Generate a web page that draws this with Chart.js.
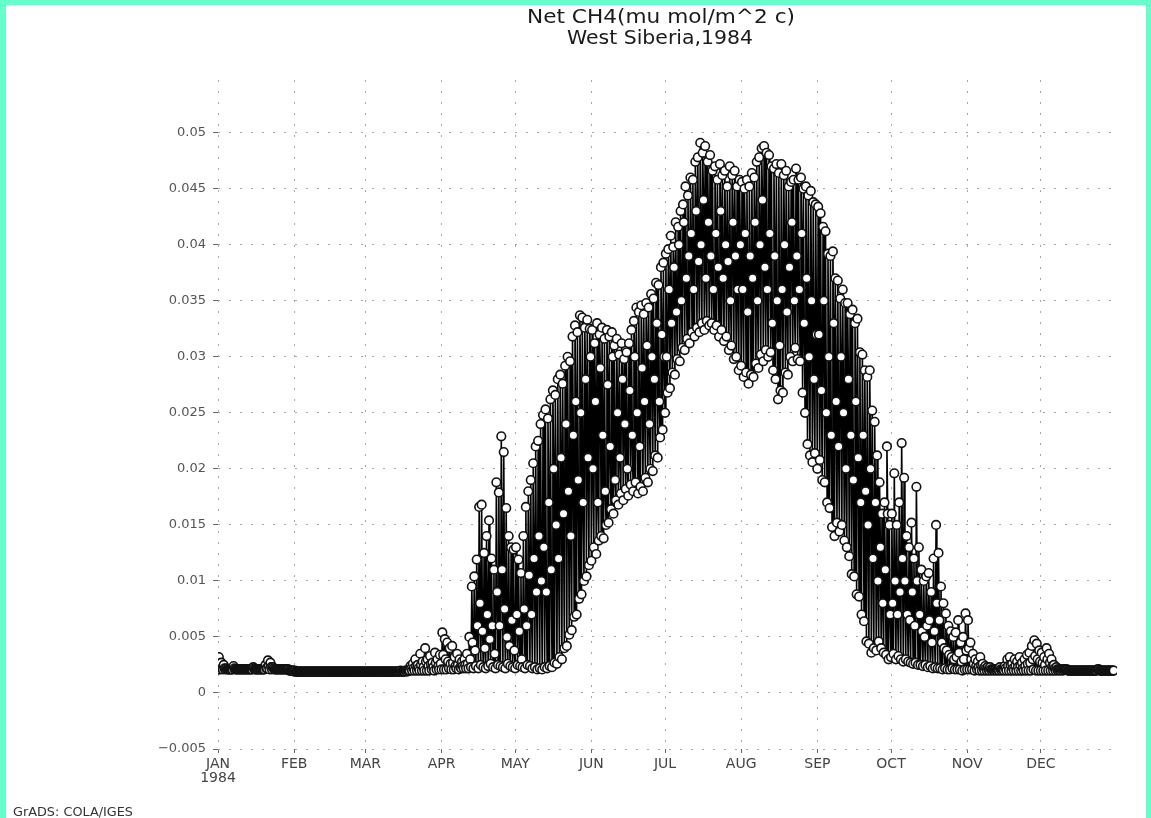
<!DOCTYPE html>
<html>
<head>
<meta charset="utf-8">
<script src="https://cdn.jsdelivr.net/npm/chart.js@4/dist/chart.umd.min.js"></script>
<style>
html,body{margin:0;padding:0;background:#fff;}
canvas{display:block;}
</style>
</head>
<body>
<canvas id="c" width="1151" height="818"></canvas>
<script>
// ---- Data ----
const titleLines = ['Net CH4(mu mol/m^2 c)', 'West Siberia,1984'];
const footerText = 'GrADS: COLA/IGES';
const monthLabels = ['JAN','FEB','MAR','APR','MAY','JUN','JUL','AUG','SEP','OCT','NOV','DEC'];
const monthStartDay = [0,31,60,91,121,152,182,213,244,274,305,335];
const yearLabel = '1984';
const yTickValues = [-0.005,0,0.005,0.01,0.015,0.02,0.025,0.03,0.035,0.04,0.045,0.05];
const yTickLabels = ['\u22120.005','0','0.005','0.01','0.015','0.02','0.025','0.03','0.035','0.04','0.045','0.05'];

// daily minimum (one value per day, Jan 1 .. Dec 30)
const dailyLow = [
// Jan
0.0021,0.0021,0.0021,0.0021,0.0021,0.0021,0.0021,0.0021,0.0021,0.0021,
0.0021,0.0021,0.0021,0.0021,0.0021,0.0021,0.0021,0.0021,0.0021,0.0021,
0.0022,0.0021,0.0021,0.0021,0.0021,0.0021,0.0021,0.0021,0.0021,0.0020,0.0020,
// Feb
0.0019,0.0019,0.0019,0.0019,0.0019,0.0019,0.0019,0.0019,0.0019,0.0019,
0.0019,0.0019,0.0019,0.0019,0.0019,0.0019,0.0019,0.0019,0.0019,0.0019,
0.0019,0.0019,0.0019,0.0019,0.0019,0.0019,0.0019,0.0019,0.0019,
// Mar
0.0019,0.0019,0.0019,0.0019,0.0019,0.0019,0.0019,0.0019,0.0019,0.0019,
0.0019,0.0019,0.0019,0.0019,0.0019,0.0019,0.0019,0.0019,
0.0020,0.0020,0.0020,0.0020,0.0020,0.0020,0.0020,0.0020,0.0020,0.0021,0.0020,0.0021,0.0021,
// Apr
0.0021,0.0021,0.0021,0.0022,0.0021,0.0021,0.0022,0.0021,0.0022,0.0022,
0.0022,0.0022,0.0023,0.0022,0.0024,0.0022,0.0025,0.0023,0.0022,0.0024,
0.0026,0.0023,0.0022,0.0025,0.0024,0.0023,0.0022,0.0026,0.0024,0.0023,
// May
0.0022,0.0025,0.0024,0.0023,0.0022,0.0025,0.0024,0.0022,0.0023,0.0021,0.0022,
0.0021,0.0023,0.0022,0.0024,0.0023,0.0027,0.0026,0.0032,0.0030,0.0040,
0.0042,0.0052,0.0056,0.0068,0.0070,0.0084,0.0088,0.0100,0.0104,0.0114,
// Jun
0.0118,0.0130,0.0124,0.0136,0.0140,0.0138,0.0150,0.0152,0.0164,0.0160,
0.0172,0.0168,0.0178,0.0172,0.0182,0.0176,0.0186,0.0180,0.0188,0.0178,
0.0184,0.0180,0.0192,0.0188,0.0200,0.0198,0.0212,0.0210,0.0228,0.0235,
// Jul
0.0250,0.0268,0.0272,0.0286,0.0284,0.0298,0.0296,0.0308,0.0306,0.0316,
0.0312,0.0322,0.0318,0.0326,0.0322,0.0330,0.0324,0.0332,0.0328,0.0330,
0.0324,0.0328,0.0318,0.0324,0.0314,0.0318,0.0306,0.0310,0.0298,0.0300,0.0288,
// Aug
0.0292,0.0282,0.0286,0.0276,0.0284,0.0282,0.0294,0.0290,0.0302,0.0296,
0.0306,0.0300,0.0304,0.0288,0.0280,0.0262,0.0270,0.0268,0.0286,0.0284,
0.0300,0.0296,0.0308,0.0298,0.0296,0.0268,0.0250,0.0222,0.0212,0.0206,0.0214,
// Sep
0.0200,0.0208,0.0190,0.0188,0.0170,0.0165,0.0148,0.0140,0.0152,0.0144,
0.0150,0.0136,0.0130,0.0122,0.0106,0.0104,0.0088,0.0086,0.0070,0.0064,
0.0046,0.0044,0.0036,0.0040,0.0038,0.0046,0.0040,0.0036,0.0034,0.0030,
// Oct
0.0032,0.0035,0.0030,0.0033,0.0030,0.0028,0.0030,0.0028,0.0027,0.0026,
0.0027,0.0025,0.0025,0.0024,0.0025,0.0023,0.0024,0.0022,0.0023,0.0022,
0.0022,0.0021,0.0022,0.0021,0.0021,0.0022,0.0021,0.0021,0.0021,0.0020,0.0021,
// Nov
0.0021,0.0021,0.0021,0.0020,0.0021,0.0020,0.0020,0.0020,0.0020,0.0020,
0.0020,0.0020,0.0020,0.0020,0.0020,0.0020,0.0020,0.0020,0.0020,0.0020,
0.0020,0.0020,0.0020,0.0020,0.0020,0.0020,0.0020,0.0021,0.0020,0.0020,
// Dec
0.0020,0.0020,0.0020,0.0020,0.0020,0.0020,0.0020,0.0020,0.0020,0.0020,
0.0021,0.0020,0.0020,0.0020,0.0020,0.0020,0.0020,0.0020,0.0020,0.0020,
0.0020,0.0020,0.0020,0.0021,0.0020,0.0020,0.0020,0.0020,0.0020,0.0020
];

// daily maximum
const dailyHigh = [
// Jan
0.0032,0.0027,0.0025,0.0022,0.0021,0.0021,0.0024,0.0021,0.0021,0.0021,
0.0021,0.0021,0.0021,0.0021,0.0023,0.0021,0.0021,0.0021,0.0021,0.0025,
0.0029,0.0027,0.0023,0.0021,0.0021,0.0021,0.0021,0.0021,0.0021,0.0020,0.0020,
// Feb
0.0020,0.0019,0.0019,0.0019,0.0019,0.0019,0.0019,0.0019,0.0019,0.0019,
0.0019,0.0019,0.0019,0.0019,0.0019,0.0019,0.0019,0.0019,0.0019,0.0019,
0.0019,0.0019,0.0019,0.0019,0.0019,0.0019,0.0019,0.0019,0.0019,
// Mar
0.0019,0.0019,0.0019,0.0019,0.0019,0.0019,0.0019,0.0019,0.0019,0.0019,
0.0019,0.0019,0.0019,0.0019,0.0020,0.0019,0.0020,0.0020,
0.0024,0.0026,0.0030,0.0025,0.0035,0.0028,0.0040,0.0030,0.0033,0.0027,0.0036,0.0030,0.0034,
// Apr
0.0054,0.0048,0.0045,0.0040,0.0042,0.0032,0.0035,0.0030,0.0028,0.0030,
0.0035,0.0050,0.0095,0.0104,0.0119,0.0166,0.0168,0.0125,0.0140,0.0154,
0.0120,0.0110,0.0188,0.0179,0.0229,0.0215,0.0165,0.0140,0.0130,0.0128,
// May
0.0130,0.0119,0.0107,0.0140,0.0166,0.0180,0.0190,0.0205,0.0220,0.0225,0.0240,
0.0248,0.0253,0.0245,0.0262,0.0270,0.0266,0.0280,0.0284,0.0276,0.0292,
0.0300,0.0296,0.0318,0.0328,0.0322,0.0337,0.0335,0.0326,0.0333,0.0325,
// Jun
0.0324,0.0312,0.0330,0.0320,0.0326,0.0316,0.0324,0.0318,0.0322,0.0310,
0.0316,0.0302,0.0312,0.0298,0.0304,0.0312,0.0324,0.0332,0.0344,0.0340,
0.0346,0.0338,0.0348,0.0344,0.0356,0.0352,0.0366,0.0364,0.0380,0.0384,
// Jul
0.0392,0.0396,0.0408,0.0398,0.0420,0.0416,0.0430,0.0436,0.0452,0.0444,
0.0460,0.0458,0.0474,0.0478,0.0491,0.0482,0.0488,0.0474,0.0480,0.0466,
0.0470,0.0458,0.0472,0.0462,0.0466,0.0452,0.0470,0.0462,0.0466,0.0452,0.0458,
// Aug
0.0456,0.0450,0.0458,0.0452,0.0464,0.0460,0.0474,0.0478,0.0486,0.0488,
0.0482,0.0480,0.0470,0.0468,0.0472,0.0464,0.0472,0.0462,0.0466,0.0452,
0.0456,0.0458,0.0468,0.0458,0.0460,0.0450,0.0452,0.0444,0.0448,0.0438,0.0436,
// Sep
0.0434,0.0428,0.0416,0.0412,0.0392,0.0390,0.0394,0.0370,0.0368,0.0352,
0.0360,0.0348,0.0348,0.0338,0.0342,0.0330,0.0334,0.0304,0.0302,0.0288,
0.0282,0.0288,0.0252,0.0242,0.0212,0.0188,0.0160,0.0170,0.0220,0.0150,
// Oct
0.0160,0.0196,0.0150,0.0170,0.0223,0.0192,0.0140,0.0130,0.0152,0.0120,
0.0184,0.0130,0.0110,0.0100,0.0104,0.0107,0.0090,0.0120,0.0150,0.0125,
0.0095,0.0080,0.0071,0.0060,0.0055,0.0050,0.0054,0.0065,0.0045,0.0050,0.0071,
// Nov
0.0065,0.0045,0.0035,0.0030,0.0028,0.0032,0.0026,0.0024,0.0023,0.0023,
0.0021,0.0021,0.0021,0.0023,0.0021,0.0024,0.0030,0.0032,0.0026,0.0030,
0.0028,0.0032,0.0027,0.0030,0.0034,0.0036,0.0042,0.0047,0.0044,0.0038,
// Dec
0.0036,0.0032,0.0040,0.0035,0.0030,0.0025,0.0023,0.0021,0.0021,0.0021,
0.0021,0.0020,0.0020,0.0020,0.0020,0.0020,0.0020,0.0020,0.0020,0.0020,
0.0020,0.0020,0.0020,0.0021,0.0020,0.0020,0.0020,0.0020,0.0020,0.0020
];

// a third (intermediate) sample of each day
const dailyMid = [
// Jan
0.0024,0.0022,0.0022,0.0021,0.0021,0.0021,0.0022,0.0021,0.0021,0.0021,
0.0021,0.0021,0.0021,0.0021,0.0022,0.0021,0.0021,0.0021,0.0021,0.0022,
0.0024,0.0023,0.0022,0.0021,0.0021,0.0021,0.0021,0.0021,0.0021,0.0020,0.0020,
// Feb
0.0019,0.0019,0.0019,0.0019,0.0019,0.0019,0.0019,0.0019,0.0019,0.0019,
0.0019,0.0019,0.0019,0.0019,0.0019,0.0019,0.0019,0.0019,0.0019,0.0019,
0.0019,0.0019,0.0019,0.0019,0.0019,0.0019,0.0019,0.0019,0.0019,
// Mar
0.0019,0.0019,0.0019,0.0019,0.0019,0.0019,0.0019,0.0019,0.0019,0.0019,
0.0019,0.0019,0.0019,0.0019,0.0019,0.0019,0.0020,0.0020,
0.0022,0.0022,0.0024,0.0022,0.0025,0.0023,0.0028,0.0024,0.0026,0.0023,0.0027,0.0024,0.0026,
// Apr
0.0034,0.0030,0.0028,0.0026,0.0027,0.0024,0.0025,0.0023,0.0024,0.0025,
0.0026,0.0030,0.0045,0.0038,0.0060,0.0080,0.0055,0.0040,0.0070,0.0048,
0.0060,0.0035,0.0090,0.0060,0.0110,0.0075,0.0050,0.0042,0.0065,0.0038,
// May
0.0070,0.0055,0.0030,0.0075,0.0060,0.0105,0.0070,0.0120,0.0090,0.0140,0.0100,
0.0130,0.0090,0.0170,0.0110,0.0200,0.0150,0.0120,0.0210,0.0160,0.0240,
0.0180,0.0140,0.0230,0.0260,0.0190,0.0250,0.0170,0.0280,0.0210,0.0300,
// Jun
0.0200,0.0260,0.0170,0.0290,0.0230,0.0180,0.0275,0.0220,0.0300,0.0190,
0.0250,0.0210,0.0280,0.0240,0.0200,0.0270,0.0230,0.0300,0.0250,0.0220,
0.0290,0.0260,0.0310,0.0240,0.0300,0.0280,0.0330,0.0260,0.0320,0.0300,
// Jul
0.0300,0.0360,0.0330,0.0380,0.0340,0.0400,0.0350,0.0420,0.0370,0.0390,
0.0410,0.0360,0.0430,0.0385,0.0400,0.0440,0.0370,0.0420,0.0390,0.0360,
0.0410,0.0380,0.0430,0.0370,0.0400,0.0385,0.0350,0.0420,0.0390,0.0360,0.0400,
// Aug
0.0360,0.0410,0.0340,0.0390,0.0370,0.0420,0.0350,0.0400,0.0440,0.0380,
0.0360,0.0410,0.0330,0.0390,0.0350,0.0310,0.0360,0.0400,0.0340,0.0380,
0.0420,0.0350,0.0390,0.0360,0.0410,0.0330,0.0370,0.0300,0.0350,0.0280,0.0320,
// Sep
0.0320,0.0270,0.0350,0.0250,0.0300,0.0230,0.0330,0.0260,0.0220,0.0300,
0.0250,0.0200,0.0280,0.0230,0.0190,0.0260,0.0210,0.0170,0.0230,0.0180,
0.0150,0.0200,0.0120,0.0170,0.0100,0.0130,0.0080,0.0110,0.0160,0.0070,
// Oct
0.0080,0.0100,0.0070,0.0090,0.0120,0.0100,0.0070,0.0065,0.0090,0.0060,
0.0100,0.0070,0.0055,0.0050,0.0060,0.0065,0.0045,0.0055,0.0080,0.0065,
0.0045,0.0040,0.0038,0.0034,0.0032,0.0030,0.0032,0.0036,0.0028,0.0030,0.0038,
// Nov
0.0040,0.0030,0.0026,0.0024,0.0023,0.0025,0.0022,0.0022,0.0021,0.0021,
0.0021,0.0021,0.0021,0.0021,0.0021,0.0022,0.0024,0.0025,0.0022,0.0024,
0.0023,0.0025,0.0022,0.0024,0.0026,0.0027,0.0030,0.0033,0.0030,0.0028,
// Dec
0.0027,0.0025,0.0030,0.0027,0.0024,0.0022,0.0021,0.0021,0.0021,0.0021,
0.0021,0.0020,0.0020,0.0020,0.0020,0.0020,0.0020,0.0020,0.0020,0.0020,
0.0020,0.0020,0.0020,0.0021,0.0020,0.0020,0.0020,0.0020,0.0020,0.0020
];

// ---- Build the series: three samples per day ----
const series = [];
const nDays = Math.min(dailyLow.length, dailyHigh.length, dailyMid.length);
for (let d = 0; d < nDays; d++) {
  series.push({x: d,       y: dailyLow[d]});
  series.push({x: d + 1/3, y: dailyHigh[d]});
  series.push({x: d + 2/3, y: dailyMid[d]});
}

function drawFitted(ctx, text, cx, y, width, font, color) {
  ctx.save();
  ctx.font = font;
  ctx.fillStyle = color;
  ctx.textBaseline = 'alphabetic';
  ctx.textAlign = 'left';
  const w = ctx.measureText(text).width;
  ctx.translate(cx - width / 2, y);
  ctx.scale(width / w, 1);
  ctx.fillText(text, 0, 0);
  ctx.restore();
}

const deco = {
  id: 'deco',
  beforeDraw(chart) {
    const ctx = chart.ctx;
    ctx.save();
    ctx.fillStyle = '#ffffff';
    ctx.fillRect(0, 0, chart.width, chart.height);
    ctx.restore();
  },
  afterDraw(chart) {
    const ctx = chart.ctx;
    drawFitted(ctx, titleLines[0], 661, 23, 268, '19px "DejaVu Sans"', '#1a1a1a');
    drawFitted(ctx, titleLines[1], 660, 43.5, 186, '19px "DejaVu Sans"', '#1a1a1a');
    drawFitted(ctx, footerText, 73, 816, 120, '12px "DejaVu Sans"', '#333');
    ctx.save();
    ctx.fillStyle = '#66ffcc';
    ctx.fillRect(0, 0, chart.width, 5);
    ctx.fillRect(0, 0, 6, chart.height);
    ctx.fillRect(chart.width - 5, 0, 5, chart.height);
    ctx.restore();
  }
};

new Chart(document.getElementById('c'), {
  type: 'line',
  data: {
    datasets: [{
      data: series,
      borderColor: '#000',
      borderWidth: 1.6,
      pointRadius: 4.3,
      pointBackgroundColor: '#fff',
      pointBorderColor: '#111',
      pointBorderWidth: 1.6,
      tension: 0,
      fill: false
    }]
  },
  options: {
    responsive: false,
    animation: false,
    devicePixelRatio: 1,
    parsing: false,
    normalized: true,
    events: [],
    layout: { padding: { left: 0, right: 34, top: 80, bottom: 0 } },
    plugins: {
      legend: { display: false },
      tooltip: { enabled: false },
      title: { display: false }
    },
    scales: {
      x: {
        type: 'linear',
        min: 0,
        max: 366,
        afterFit(s) { s.height = 69; },
        afterBuildTicks(s) { s.ticks = monthStartDay.map(v => ({ value: v })); },
        ticks: {
          autoSkip: false,
          maxRotation: 0,
          padding: 4,
          color: '#444',
          font: { family: 'DejaVu Sans', size: 14, lineHeight: 1.0 },
          callback: (v, i) => i === 0 ? [monthLabels[0], yearLabel] : monthLabels[i]
        },
        grid: {
          color: '#a8a8a8',
          lineWidth: 1,
          tickLength: 4,
          tickColor: '#666'
        },
        border: { display: false, dash: [2, 9] }
      },
      y: {
        type: 'linear',
        min: -0.005,
        max: 0.0547,
        afterFit(s) { s.width = 218; },
        afterBuildTicks(s) { s.ticks = yTickValues.map(v => ({ value: v })); },
        ticks: {
          padding: 7,
          color: '#555',
          font: { family: 'DejaVu Sans', size: 13 },
          callback: (v, i) => yTickLabels[i]
        },
        grid: {
          color: '#a8a8a8',
          lineWidth: 1,
          tickLength: 5,
          tickColor: '#666'
        },
        border: { display: false, dash: [2, 9] }
      }
    }
  },
  plugins: [deco]
});
</script>
</body>
</html>
